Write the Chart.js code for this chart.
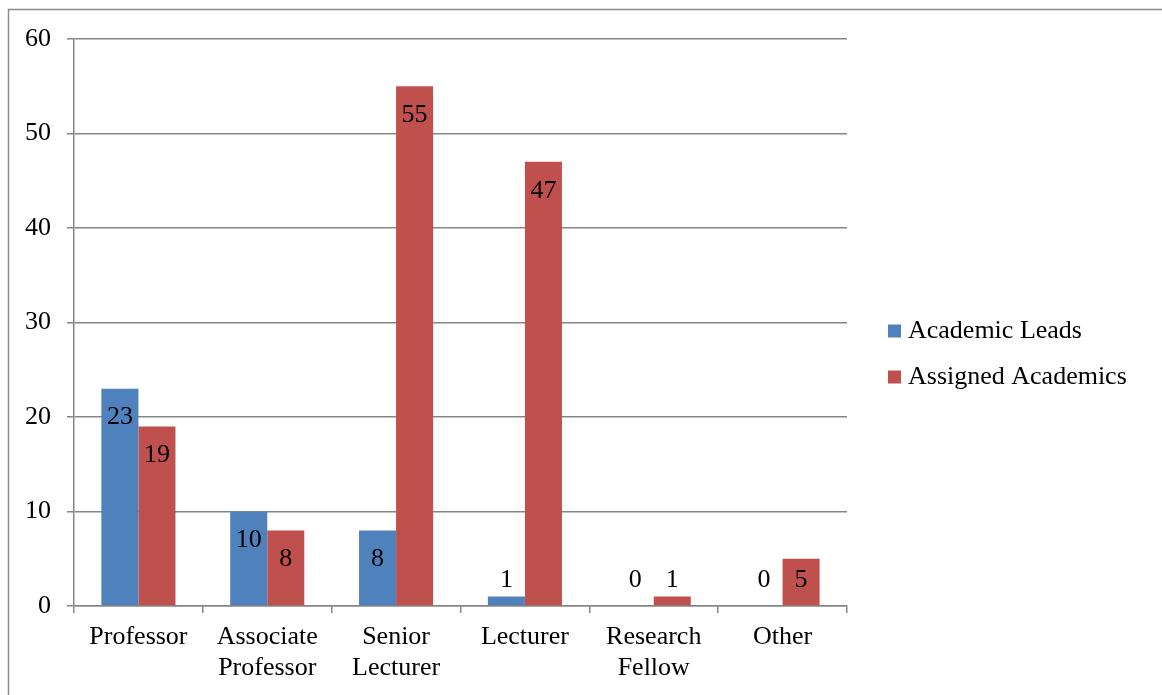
<!DOCTYPE html>
<html>
<head>
<meta charset="utf-8">
<script src="https://cdn.jsdelivr.net/npm/chart.js@4.4.1/dist/chart.umd.min.js"></script>
<style>
  html, body { margin: 0; padding: 0; background: #fff; }
  #wrap { width: 1162px; height: 695px; position: relative; }
</style>
</head>
<body>
<div id="wrap"><canvas id="c"></canvas></div>
<script>
const categories = [["Professor"], ["Associate", "Professor"], ["Senior", "Lecturer"], ["Lecturer"], ["Research", "Fellow"], ["Other"]];
const seriesNames = ["Academic Leads", "Assigned Academics"];
const academicLeads = [23, 10, 8, 1, 0, 0];
const assignedAcademics = [19, 8, 55, 47, 1, 5];
const yTicks = [0, 10, 20, 30, 40, 50, 60];
const colors = ["#4F81BD", "#C0504D"];

const FONT = "'Liberation Serif', 'Times New Roman', serif";
const FS = 26;
const GRID = "#868686";

const framePlugin = {
  id: 'frame',
  beforeDraw(chart) {
    const ctx = chart.ctx;
    ctx.save();
    ctx.fillStyle = '#fff';
    ctx.fillRect(0, 0, chart.width, chart.height);
    ctx.strokeStyle = '#8c8c8c';
    ctx.lineWidth = 1.5;
    ctx.beginPath();
    ctx.moveTo(8.5, chart.height);
    ctx.lineTo(8.5, 9.5);
    ctx.lineTo(chart.width, 9.5);
    ctx.stroke();
    ctx.restore();
  }
};

const labelPlugin = {
  id: 'barLabels',
  afterDatasetsDraw(chart) {
    const ctx = chart.ctx;
    const yScale = chart.scales.y;
    const base = yScale.getPixelForValue(0);
    ctx.save();
    ctx.font = FS + "px " + FONT;
    ctx.fillStyle = '#000';
    ctx.textAlign = 'center';
    ctx.textBaseline = 'middle';
    chart.data.datasets.forEach((ds, di) => {
      const meta = chart.getDatasetMeta(di);
      meta.data.forEach((el, i) => {
        const y = Math.min(el.y + 29, base - 26);
        ctx.fillText(String(ds.data[i]), el.x, y);
      });
    });
    ctx.restore();
  }
};

const legendPlugin = {
  id: 'customLegend',
  afterDraw(chart) {
    const ctx = chart.ctx;
    ctx.save();
    ctx.font = FS + "px " + FONT;
    ctx.textBaseline = 'middle';
    ctx.textAlign = 'left';
    seriesNames.forEach((name, i) => {
      const cy = 331 + i * 46;
      ctx.fillStyle = colors[i];
      ctx.fillRect(888, cy - 6.5, 13, 13);
      ctx.fillStyle = '#000';
      ctx.fillText(name, 908, cy);
    });
    ctx.restore();
  }
};

new Chart(document.getElementById('c'), {
  type: 'bar',
  data: {
    labels: categories,
    datasets: [
      { label: seriesNames[0], data: academicLeads, backgroundColor: colors[0], borderWidth: 0, categoryPercentage: 0.575, barPercentage: 1.0 },
      { label: seriesNames[1], data: assignedAcademics, backgroundColor: colors[1], borderWidth: 0, categoryPercentage: 0.575, barPercentage: 1.0 }
    ]
  },
  options: {
    responsive: true,
    maintainAspectRatio: false,
    animation: false,
    layout: { padding: { left: 0, top: 39, right: 315, bottom: 0 } },
    plugins: { legend: { display: false }, tooltip: { enabled: false } },
    scales: {
      x: {
        grid: { display: true, drawOnChartArea: false, drawTicks: true, tickLength: 7, color: GRID, lineWidth: 1.5, offset: true },
        border: { display: true, color: GRID, width: 1.5 },
        ticks: { color: '#000', font: { family: FONT, size: FS, lineHeight: 1.19 }, padding: 9, maxRotation: 0, autoSkip: false },
        afterFit(scale) { scale.height = 89; }
      },
      y: {
        min: 0, max: 60,
        afterBuildTicks(scale) { scale.ticks = yTicks.map(v => ({ value: v })); },
        grid: { color: GRID, lineWidth: 1.5, tickLength: 7 },
        border: { display: true, color: GRID, width: 1.5 },
        ticks: { color: '#000', font: { family: FONT, size: FS }, padding: 16 },
        afterFit(scale) { scale.width = 74; }
      }
    }
  },
  plugins: [framePlugin, labelPlugin, legendPlugin]
});
</script>
</body>
</html>
